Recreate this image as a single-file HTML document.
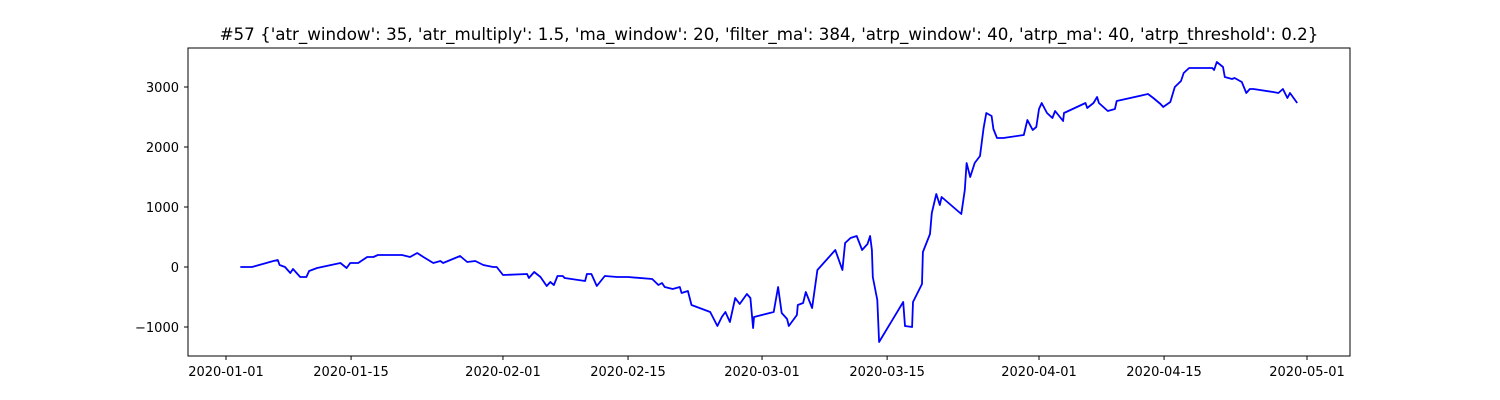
<!DOCTYPE html>
<html><head><meta charset="utf-8">
<style>
html,body{margin:0;padding:0;background:#fff;}
svg{display:block;font-family:"DejaVu Sans","Liberation Sans",sans-serif;}
</style></head>
<body>
<svg id="chart" width="1500" height="400">
<text x="769" y="40" font-size="16.7" text-anchor="middle" fill="#000">#57 {'atr_window': 35, 'atr_multiply': 1.5, 'ma_window': 20, 'filter_ma': 384, 'atrp_window': 40, 'atrp_ma': 40, 'atrp_threshold': 0.2}</text>
<rect x="188" y="48" width="1162" height="308" fill="none" stroke="#000" stroke-width="1"/>
<g id="xaxis"></g>
<g id="yaxis"></g>
<path id="line" fill="none" stroke="#0000ff" stroke-width="1.8" stroke-linejoin="round"/>
</svg>
<script>
// days since 2020-01-01
const days = [1.6,2.9,5.3,5.8,6.0,6.6,7.2,7.5,8.3,9.0,9.3,10.2,12.8,13.5,13.9,14.8,15.8,16.5,17.0,19.7,20.6,21.4,22.1,23.2,24.0,24.3,26.2,27.0,27.9,28.8,29.9,30.3,31.0,33.7,33.9,34.5,35.2,35.9,36.3,36.7,37.1,37.7,37.9,40.2,40.4,40.9,41.5,42.4,43.8,45.0,47.7,48.4,48.8,49.1,50.0,50.8,51.0,51.7,52.1,54.2,55.0,55.5,55.9,56.4,57.0,57.5,58.3,58.7,59.0,59.1,61.3,61.8,62.2,62.8,63.0,63.9,64.0,64.6,64.9,65.6,66.2,68.2,69.0,69.3,69.9,70.6,71.2,71.8,72.1,72.3,72.4,72.9,73.1,75.8,76.0,76.8,76.9,77.9,78.0,78.8,79.0,79.5,79.9,80.1,82.3,82.7,82.9,83.3,83.8,84.4,84.8,85.1,85.7,85.9,86.3,87.0,89.3,89.7,90.3,90.7,91.0,91.3,91.9,92.5,92.8,93.7,93.8,96.2,96.4,97.1,97.5,97.7,98.7,99.5,99.7,103.2,103.8,104.6,104.9,105.7,106.2,106.9,107.2,107.8,110.4,110.6,110.9,111.6,111.8,112.6,112.9,113.7,114.2,114.6,115.0,117.2,117.8,118.3,118.8,119.1,119.9];
const values = [0,0,100,117,33,0,-100,-33,-167,-167,-67,-17,67,-17,67,67,167,167,200,200,167,233,167,67,100,67,183,83,100,33,0,0,-133,-117,-183,-83,-167,-317,-250,-300,-150,-150,-183,-233,-117,-117,-317,-150,-167,-167,-200,-300,-267,-333,-367,-333,-433,-400,-633,-750,-983,-833,-750,-917,-517,-617,-450,-517,-1017,-833,-750,-333,-767,-867,-983,-800,-633,-600,-417,-683,-50,283,-50,400,483,517,283,383,517,283,-167,-550,-1250,-583,-983,-1000,-583,-283,250,550,900,1217,1033,1167,883,1283,1733,1500,1733,1850,2317,2567,2517,2300,2150,2150,2200,2450,2283,2333,2633,2733,2567,2483,2600,2433,2567,2733,2650,2733,2833,2733,2600,2633,2767,2883,2817,2717,2667,2750,3000,3100,3233,3317,3317,3283,3417,3333,3167,3133,3150,3083,2900,2967,2967,2917,2900,2967,2817,2900,2733];
const xTickDays = [0,14,31,45,60,74,91,105,121];
const xTickLabels = ['2020-01-01','2020-01-15','2020-02-01','2020-02-15','2020-03-01','2020-03-15','2020-04-01','2020-04-15','2020-05-01'];
const yTicks = [-1000,0,1000,2000,3000];

const X = d => 226 + d * 8.934;
const Y = v => 267 - v * 0.06;
const NS = 'http://www.w3.org/2000/svg';
const xa = document.getElementById('xaxis'), ya = document.getElementById('yaxis');
xTickDays.forEach((d,i)=>{
  const t = document.createElementNS(NS,'line');
  t.setAttribute('x1',X(d));t.setAttribute('x2',X(d));t.setAttribute('y1',356);t.setAttribute('y2',360);t.setAttribute('stroke','#000');
  
  
  xa.appendChild(t);
  const l = document.createElementNS(NS,'text');
  l.setAttribute('x',X(d));l.setAttribute('y',376);l.setAttribute('font-size','13');l.setAttribute('text-anchor','middle');
  l.textContent = xTickLabels[i];
  
  
  xa.appendChild(l);
});
yTicks.forEach(v=>{
  const t = document.createElementNS(NS,'line');
  t.setAttribute('x1',184);t.setAttribute('x2',188);t.setAttribute('y1',Y(v));t.setAttribute('y2',Y(v));t.setAttribute('stroke','#000');
  
  
  ya.appendChild(t);
  const l = document.createElementNS(NS,'text');
  l.setAttribute('x',179);l.setAttribute('y',Y(v)+5);l.setAttribute('font-size','13');l.setAttribute('text-anchor','end');
  l.textContent = v < 0 ? '\u2212' + Math.abs(v) : String(v);
  
  
  ya.appendChild(l);
});
document.getElementById('line').setAttribute('d', days.map((d,i)=>(i?'L':'M')+X(d).toFixed(1)+' '+Y(values[i]).toFixed(1)).join(' '));
</script>
</body></html>
